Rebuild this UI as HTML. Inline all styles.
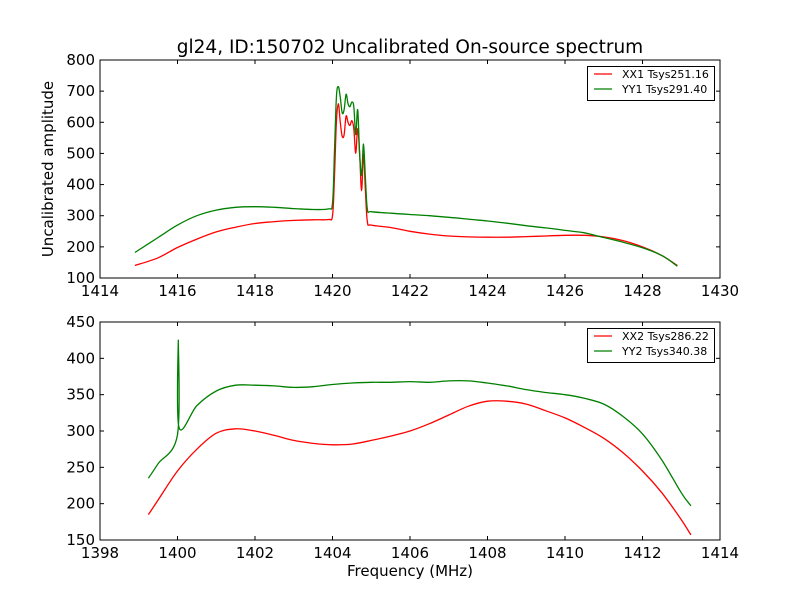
<!DOCTYPE html>
<html><head><meta charset="utf-8"><style>
body{margin:0;background:#fff;}
svg{display:block;font-family:"DejaVu Sans","Liberation Sans",sans-serif;}
</style></head><body>
<svg id="chart" width="800" height="600"></svg>
<script>
const topXTicks=[1414,1416,1418,1420,1422,1424,1426,1428,1430];
const topYTicks=[100,200,300,400,500,600,700,800];
const botXTicks=[1398,1400,1402,1404,1406,1408,1410,1412,1414];
const botYTicks=[150,200,250,300,350,400,450];
const xx1F=[1414.9,1415.5,1416,1416.5,1417,1417.5,1418,1418.5,1419,1419.5,1419.9,1420.0,1420.05,1420.1,1420.15,1420.2,1420.25,1420.3,1420.35,1420.4,1420.45,1420.5,1420.55,1420.6,1420.65,1420.7,1420.75,1420.8,1420.85,1420.9,1421,1421.5,1422,1422.5,1423,1423.5,1424,1424.5,1425,1425.5,1426,1426.5,1427,1427.5,1428,1428.5,1428.9];
const xx1V=[140,165,198,225,248,263,275,281,285,287,288,300,420,600,660,600,555,560,620,600,590,605,580,500,580,500,380,500,380,280,270,262,250,241,235,232,231,231,233,235,237,237,232,220,200,172,140];
const yy1F=xx1F;
const yy1V=[182,230,270,300,318,327,329,327,323,320,322,340,500,680,715,680,630,640,690,660,650,665,650,560,640,500,430,530,420,320,313,308,304,300,295,289,283,276,268,261,253,245,230,215,197,172,138];
const xx2F=[1399.25,1399.5,1400,1400.5,1401,1401.5,1402,1402.5,1403,1403.5,1404,1404.5,1405,1405.5,1406,1406.5,1407,1407.5,1408,1408.5,1409,1409.5,1410,1410.5,1411,1411.5,1412,1412.5,1413,1413.25];
const xx2V=[185,205,245,275,297,303,300,294,287,283,281,282,287,293,300,310,322,334,341,341,337,328,318,305,290,270,245,215,178,157];
const yy2F=[1399.25,1399.5,1400,1400.02,1400.04,1400.5,1401,1401.5,1402,1402.5,1403,1403.5,1404,1404.5,1405,1405.5,1406,1406.5,1407,1407.5,1408,1408.5,1409,1409.5,1410,1410.5,1411,1411.5,1412,1412.5,1413,1413.25];
const yy2V=[235,255,295,425,305,335,355,363,363,362,360,361,364,366,367,367,368,367,369,369,366,362,357,353,350,345,337,320,296,260,215,197];

const NS='http://www.w3.org/2000/svg';
const svg=document.getElementById('chart');
function mk(t,a,p){const e=document.createElementNS(NS,t);for(const k in a)e.setAttribute(k,a[k]);(p||svg).appendChild(e);return e;}
function smooth(pts){
  let d='M'+pts[0][0].toFixed(1)+','+pts[0][1].toFixed(1);
  for(let i=0;i<pts.length-1;i++){
    const p0=pts[Math.max(0,i-1)],p1=pts[i],p2=pts[i+1],p3=pts[Math.min(pts.length-1,i+2)];
    const c1x=p1[0]+(p2[0]-p0[0])/6,c1y=p1[1]+(p2[1]-p0[1])/6;
    const c2x=p2[0]-(p3[0]-p1[0])/6,c2y=p2[1]-(p3[1]-p1[1])/6;
    d+='C'+c1x.toFixed(1)+','+c1y.toFixed(1)+' '+c2x.toFixed(1)+','+c2y.toFixed(1)+' '+p2[0].toFixed(1)+','+p2[1].toFixed(1);
  }
  return d;
}
function panel(name,top,xmin,xmax,ymin,ymax,xt,yt,series,legend,xlabel,ylabel){
  const L=100,R=720,T=top,B=top+218;
  const sx=v=>L+(v-xmin)/(xmax-xmin)*(R-L);
  const sy=v=>B-(v-ymin)/(ymax-ymin)*(B-T);
  const g=mk('g',{});
  
  
  series.forEach(s=>{
    const pts=s.f.map((f,i)=>[sx(f),sy(s.v[i])]);
    const p=mk('path',{d:smooth(pts),fill:'none',stroke:s.c,'stroke-width':1.3,'stroke-linejoin':'round'},g);
    
    
  });
  const fr=mk('rect',{x:L,y:T,width:R-L,height:B-T,fill:'none',stroke:'#000','stroke-width':1},g);
  
  
  xt.forEach(v=>{const x=sx(v);
    mk('line',{x1:x,x2:x,y1:B,y2:B-4,stroke:'#000'},g);mk('line',{x1:x,x2:x,y1:T,y2:T+4,stroke:'#000'},g);
    const t=mk('text',{x:x,y:B+18,'font-size':15,'text-anchor':'middle'},g);t.textContent=v;
    
    });
  yt.forEach(v=>{const y=sy(v);
    mk('line',{x1:L,x2:L+4,y1:y,y2:y,stroke:'#000'},g);mk('line',{x1:R,x2:R-4,y1:y,y2:y,stroke:'#000'},g);
    const t=mk('text',{x:L-5,y:y+5,'font-size':15,'text-anchor':'end'},g);t.textContent=v;
    
    });
  const lg=mk('g',{},g);
  
  
  mk('rect',{x:587.5,y:T+6.5,width:127,height:34,fill:'#fff',stroke:'#000'},lg);
  legend.forEach((e,i)=>{const y=T+14+i*15;
    mk('line',{x1:594,x2:612,y1:y,y2:y,stroke:e.c,'stroke-width':1.3},lg);
    const t=mk('text',{x:622,y:y+4,'font-size':11},lg);t.textContent=e.t;
    
    });
  if(xlabel){const t=mk('text',{x:410,y:576,'font-size':15,'text-anchor':'middle'},g);t.textContent=xlabel;
    }
  if(ylabel){const t=mk('text',{x:0,y:0,'font-size':15,'text-anchor':'middle',transform:'translate(53,'+(T+109)+') rotate(-90)'},g);t.textContent=ylabel;
    }
}
const title=mk('text',{x:410,y:53,'font-size':18.5,'text-anchor':'middle'});
title.textContent='gl24, ID:150702 Uncalibrated On-source spectrum';


panel('top-panel',60,1414,1430,100,800,topXTicks,topYTicks,
  [{f:xx1F,v:xx1V,c:'#ff0000',n:'xx1-line'},{f:yy1F,v:yy1V,c:'#008000',n:'yy1-line'}],
  [{c:'#ff0000',t:'XX1 Tsys251.16'},{c:'#008000',t:'YY1 Tsys291.40'}],null,'Uncalibrated amplitude');
panel('bottom-panel',322,1398,1414,150,450,botXTicks,botYTicks,
  [{f:xx2F,v:xx2V,c:'#ff0000',n:'xx2-line'},{f:yy2F,v:yy2V,c:'#008000',n:'yy2-line'}],
  [{c:'#ff0000',t:'XX2 Tsys286.22'},{c:'#008000',t:'YY2 Tsys340.38'}],'Frequency (MHz)',null);
</script>
</body></html>
